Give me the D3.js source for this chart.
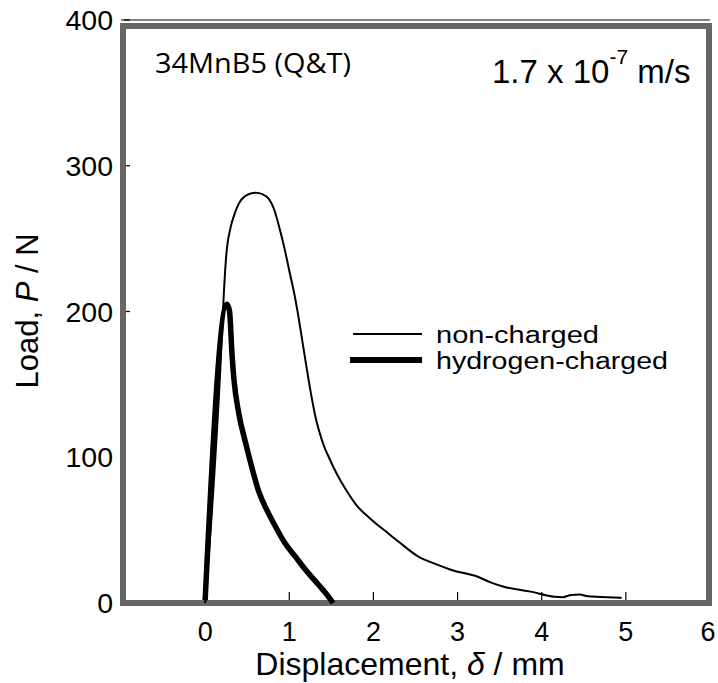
<!DOCTYPE html>
<html><head><meta charset="utf-8">
<script src="https://cdn.jsdelivr.net/npm/d3@7"></script>
<style>body{margin:0;background:#fff}svg{display:block}</style>
</head><body>
<script>
// Data
const xTicks = [0, 1, 2, 3, 4, 5, 6];
const yTicks = [0, 100, 200, 300, 400];
const nonChargedX = [0, 0.1, 0.18, 0.22, 0.25, 0.3, 0.35, 0.4, 0.5, 0.6, 0.68, 0.76, 0.82, 0.88, 0.94, 1.0, 1.06, 1.11, 1.16, 1.21, 1.26, 1.31, 1.36, 1.41, 1.47, 1.57, 1.67, 1.8, 1.98, 2.15, 2.3, 2.53, 2.75, 2.93, 3.24, 3.4, 3.56, 3.87, 4.15, 4.25, 4.35, 4.45, 4.55, 4.7, 4.95];
const nonChargedP = [0, 80, 160, 210, 238, 257, 267, 274, 280, 281.5, 280.5, 277, 270, 258, 244, 228, 212, 196, 178, 160, 143, 128, 117, 108, 100, 88, 78, 67, 57, 49, 42, 32, 26.5, 22.6, 18, 14, 11, 7.8, 4.3, 4, 5.5, 5.8, 4.6, 4.2, 3.5];
const hChargedX = [0.0, 0.26, 0.29, 0.32, 0.343, 0.4, 0.48, 0.56, 0.64, 0.74, 0.84, 0.95, 1.07, 1.19, 1.31, 1.4, 1.47, 1.52];
const hChargedP = [2, 205, 200, 170, 153, 130, 110, 92, 76, 63, 52, 41, 32, 23, 15, 9, 4, 0];
const seriesNames = ["non-charged", "hydrogen-charged"];

const W = 718, H = 683;
const svg = d3.select("body").append("svg").attr("width", W).attr("height", H);

const x = d3.scaleLinear().domain([-1, 6]).range([121, 710]);
const y = d3.scaleLinear().domain([0, 400]).range([603, 20]);

// thin black original axis box top line
svg.append("line").attr("x1", x(-1)).attr("x2", x(6)).attr("y1", y(400)).attr("y2", y(400))
  .attr("stroke", "#000").attr("stroke-width", 1);

// inward ticks
svg.append("g").selectAll("line").data([1,2,3,4,5]).join("line")
  .attr("x1", d => x(d)).attr("x2", d => x(d)).attr("y1", y(0) - 3).attr("y2", y(0) - 11)
  .attr("stroke", "#000").attr("stroke-width", 1.2);
svg.append("g").selectAll("line").data([200, 300, 400]).join("line")
  .attr("x1", x(-1) + 3).attr("x2", x(-1) + 9).attr("y1", d => y(d)).attr("y2", d => y(d))
  .attr("stroke", "#000").attr("stroke-width", 1.2);

// gray frame
svg.append("rect").attr("x", 123).attr("y", 26).attr("width", 586).attr("height", 577)
  .attr("fill", "none").attr("stroke", "#666").attr("stroke-width", 6);

// tick labels
svg.append("g").selectAll("text").data(xTicks).join("text")
  .attr("x", d => Math.min(x(d), 708)).attr("y", 641).attr("text-anchor", "middle")
  .attr("font-family", "Liberation Sans, Arial, sans-serif").attr("font-size", 27)
  .text(d => d);
svg.append("g").selectAll("text").data(yTicks).join("text")
  .attr("x", 113).attr("y", d => y(d) + 10).attr("text-anchor", "end")
  .attr("font-family", "Liberation Sans, Arial, sans-serif").attr("font-size", 28.5)
  .text(d => d);

// axis titles
const xt = svg.append("text").attr("x", 410).attr("y", 675).attr("text-anchor", "middle")
  .attr("font-family", "Liberation Sans, Arial, sans-serif").attr("font-size", 32);
xt.append("tspan").text("Displacement, ");
xt.append("tspan").attr("font-style", "italic").text("δ");
xt.append("tspan").text(" / mm");

const yt = svg.append("text").attr("transform", "translate(38,311) rotate(-90)").attr("text-anchor", "middle")
  .attr("font-family", "Liberation Sans, Arial, sans-serif").attr("font-size", 31);
yt.append("tspan").text("Load, ");
yt.append("tspan").attr("font-style", "italic").text("P");
yt.append("tspan").text(" / N");

// annotations
svg.append("text").attr("x", 155).attr("y", 73)
  .attr("font-family", "Open Sans, Noto Sans, sans-serif").attr("font-size", 27)
  .attr("textLength", 196).attr("lengthAdjust", "spacingAndGlyphs")
  .text("34MnB5 (Q&T)");
const sp = svg.append("text").attr("x", 492).attr("y", 83)
  .attr("font-family", "Liberation Sans, Arial, sans-serif").attr("font-size", 33);
sp.append("tspan").text("1.7 x 10");
sp.append("tspan").attr("dy", -19).attr("font-size", 21).text("-7");
sp.append("tspan").attr("dy", 19).text(" m/s");

// curves
const line = d3.line().x(d => x(d[0])).y(d => y(d[1])).curve(d3.curveMonotoneX);
const nc = nonChargedX.map((v, i) => [v, nonChargedP[i]]);
const hc = hChargedX.map((v, i) => [v, hChargedP[i]]);
svg.append("path").attr("d", line(nc)).attr("fill", "none").attr("stroke", "#000").attr("stroke-width", 2);
svg.append("path").attr("d", line(hc))
  .attr("fill", "none").attr("stroke", "#000").attr("stroke-width", 5.5).attr("stroke-linejoin", "round");

// legend
const leg = [{name: seriesNames[0], w: 2, ly: 334, x1: 353, tl: 163}, {name: seriesNames[1], w: 6, ly: 360, x1: 350, tl: 232}];
leg.forEach(l => {
  svg.append("line").attr("x1", l.x1).attr("x2", 422).attr("y1", l.ly).attr("y2", l.ly)
    .attr("stroke", "#000").attr("stroke-width", l.w);
  svg.append("text").attr("x", 436).attr("y", l.ly + 9)
    .attr("font-family", "Liberation Sans, Arial, sans-serif").attr("font-size", 23)
    .attr("textLength", l.tl).attr("lengthAdjust", "spacingAndGlyphs")
    .text(l.name);
});
</script>
</body></html>
